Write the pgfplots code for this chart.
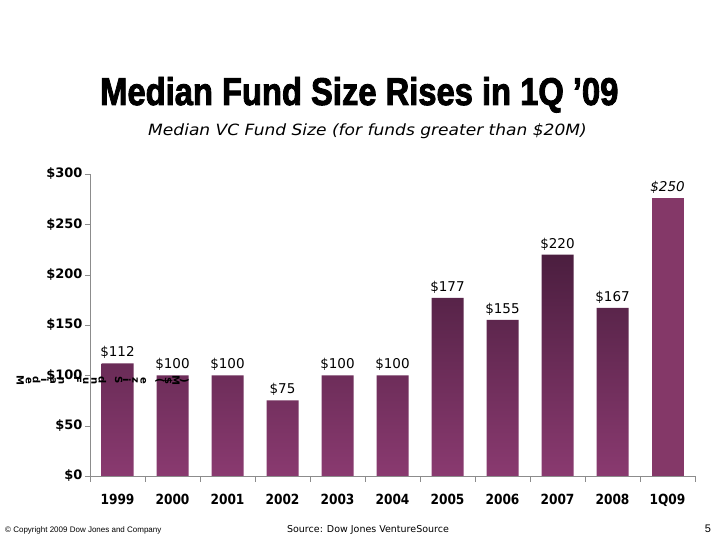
\documentclass[border=0pt]{standalone}
\usepackage{graphicx}
\usepackage{pgfplots}
\pgfplotsset{compat=1.18}
\usepackage{fontspec}
\setmainfont{DejaVu Sans}[FakeStretch=0.87]
\newfontfamily\tah{DejaVu Sans}
\newfontfamily\titlefont{Liberation Sans Bold}[FakeBold=2.5]
\newfontfamily\arialfont{Liberation Sans}
\definecolor{bartop}{HTML}{4B1E3F}
\definecolor{barbot}{HTML}{8A3A70}
\definecolor{barlast}{HTML}{843868}
\definecolor{axisgray}{HTML}{8C8C8C}
\newcommand\rc[1]{\makebox[8.2pt]{\rotatebox[origin=c]{-90}{#1}}}

\begin{document}
\begin{tikzpicture}[x=1pt,y=1pt]
\fill[white] (0,0) rectangle (720,540);

% title and subtitle
\node[anchor=base west,inner sep=0] at (100,435)
  {\resizebox{518pt}{28pt}{\titlefont Median Fund Size Rises in 1Q ’09}};
\node[anchor=base,inner sep=0,xscale=1.1] at (367.5,404)
  {\tah\fontsize{15.5}{18}\selectfont\itshape Median VC Fund Size (for funds greater than \$20M)};

\begin{axis}[
at={(90pt,64pt)}, anchor=south west,
scale only axis,
width=605pt, height=302pt,
xmin=-0.5, xmax=10.5,
ymin=0, ymax=300,
ybar, bar width=32pt, bar shift=0pt,
axis x line*=bottom, axis y line*=left,
axis line style={draw=axisgray, -},
tick align=outside,
xtick={0,...,10},
xticklabels={1999,2000,2001,2002,2003,2004,2005,2006,2007,2008,1Q09},
major x tick style={draw=none},
minor xtick={-0.5,0.5,...,10.5},
minor x tick style={draw=axisgray},
minor tick length=6pt,
major tick length=5pt,
ytick={0,50,...,300},
yticklabels={\$0,\$50,\$100,\$150,\$200,\$250,\$300},
y tick style={draw=axisgray},
xticklabel style={font=\fontsize{14}{16}\selectfont\bfseries, yshift=-10pt},
yticklabel style={font=\tah\fontsize{13}{16}\selectfont\bfseries, xshift=1pt},
point meta=explicit symbolic,
nodes near coords={\$\pgfplotspointmeta},
nodes near coords style={font=\tah\fontsize{13.5}{16}\selectfont, black, yshift=1pt},
clip=false,
]
\addplot[top color=bartop, bottom color=barbot, draw=none] coordinates {
(0,112) [112]
(1,100) [100]
(2,100) [100]
(3,75)  [75]
(4,100) [100]
(5,100) [100]
(6,177) [177]
(7,155) [155]
(8,220) [220]
(9,167) [167]
};
\addplot[fill=barlast, draw=none,
  nodes near coords style={font=\tah\fontsize{13.5}{16}\selectfont\itshape}] coordinates {
(10,276) [250]
};
\end{axis}

% garbled axis title as in the slide
\node[anchor=west,inner sep=0,font=\tah\fontsize{10}{11}\selectfont\bfseries] at (16,160)
  {\rc{M}\rc{e}\rc{d}\rc{i}\rc{a}\rc{n}\rc{}\rc{F}\rc{u}\rc{n}\rc{d}\rc{}\rc{S}\rc{i}\rc{z}\rc{e}\rc{}\rc{(}\rc{\$}\rc{M}\rc{)}};

% footer
\node[anchor=base west,inner sep=0] at (5,7)
  {\arialfont\fontsize{8}{9}\selectfont © Copyright 2009 Dow Jones and Company};
\node[anchor=base,inner sep=0] at (368,7)
  {\tah\fontsize{9.5}{11}\selectfont Source: Dow Jones VentureSource};
\node[anchor=base,inner sep=0] at (708,7)
  {\arialfont\fontsize{11}{13}\selectfont 5};
\end{tikzpicture}
\end{document}
